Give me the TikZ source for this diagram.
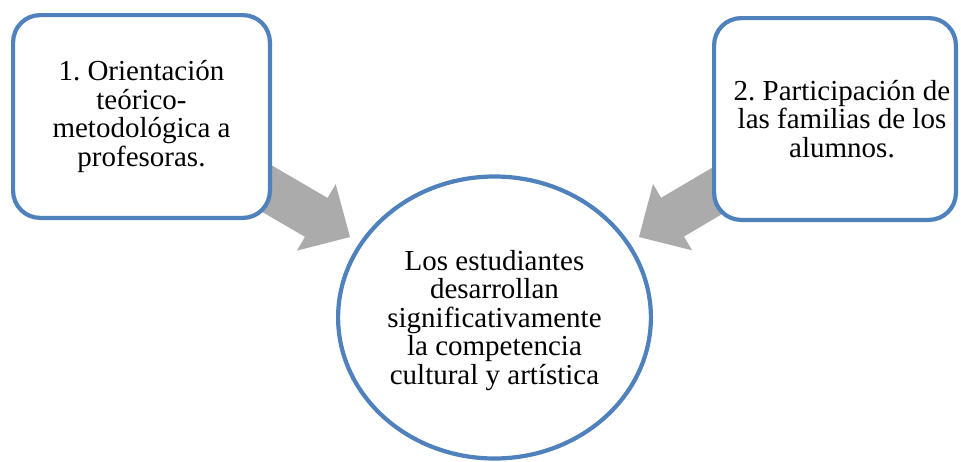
\documentclass[tikz,border=0pt]{standalone}
\usepackage{fontspec}
\setmainfont{Liberation Serif}
\frenchspacing
\usetikzlibrary{calc,shapes.geometric}
\definecolor{boxblue}{RGB}{79,129,189}
\definecolor{arrowgray}{RGB}{171,171,171}
\newcommand\blockarrow[2]{%
  \coordinate (#1h) at ($(#2)!39pt!(#1)$);
  \fill[arrowgray] ($(#1)!22.5pt!90:(#2)$) -- ($(#1h)!22.5pt!-90:(#1)$)
    -- ($(#1h)!38.5pt!-90:(#1)$) -- (#2) -- ($(#1h)!38.5pt!90:(#1)$)
    -- ($(#1h)!22.5pt!90:(#1)$) -- ($(#1)!22.5pt!-90:(#2)$) -- cycle;}
\begin{document}
\begin{tikzpicture}[x=1pt,y=-1pt,
  txt/.style={align=center, font=\fontsize{29}{28.5}\selectfont, text=black, inner sep=0pt},
  box/.style={draw=boxblue, line width=4.2pt, rounded corners=27pt, fill=white, inner sep=0pt},
  oval/.style={ellipse, draw=boxblue, line width=4.2pt, fill=white, inner sep=0pt}]
\useasboundingbox (0,0) rectangle (961,461);
% arrow end points
\coordinate (a1s) at (255,181.7);
\coordinate (a1e) at (350,237);
\coordinate (a2s) at (733.7,181.1);
\coordinate (a2e) at (639,237);
\blockarrow{a1s}{a1e}
\blockarrow{a2s}{a2e}
% boxes
\node[box, minimum width=256.8pt, minimum height=202.8pt] (b1) at (141.5,116.5) {};
\node[txt] (b1t) at (b1.center) {1. Orientación\\teórico-\\metodológica a\\profesoras.};
\node[box, minimum width=241.8pt, minimum height=201.8pt] (b2) at (835,119) {};
\node[txt] (b2t) at ($(b2.center)+(7,0)$) {2. Participación de\\las familias de los\\alumnos.};
\node[oval, minimum width=312.8pt, minimum height=282pt] (c) at (494.5,317.5) {};
\node[txt] (ct) at ($(c.center)+(0,3)$)
  {Los estudiantes\\desarrollan\\significativamente\\la competencia\\cultural y artística};
\end{tikzpicture}
\end{document}
